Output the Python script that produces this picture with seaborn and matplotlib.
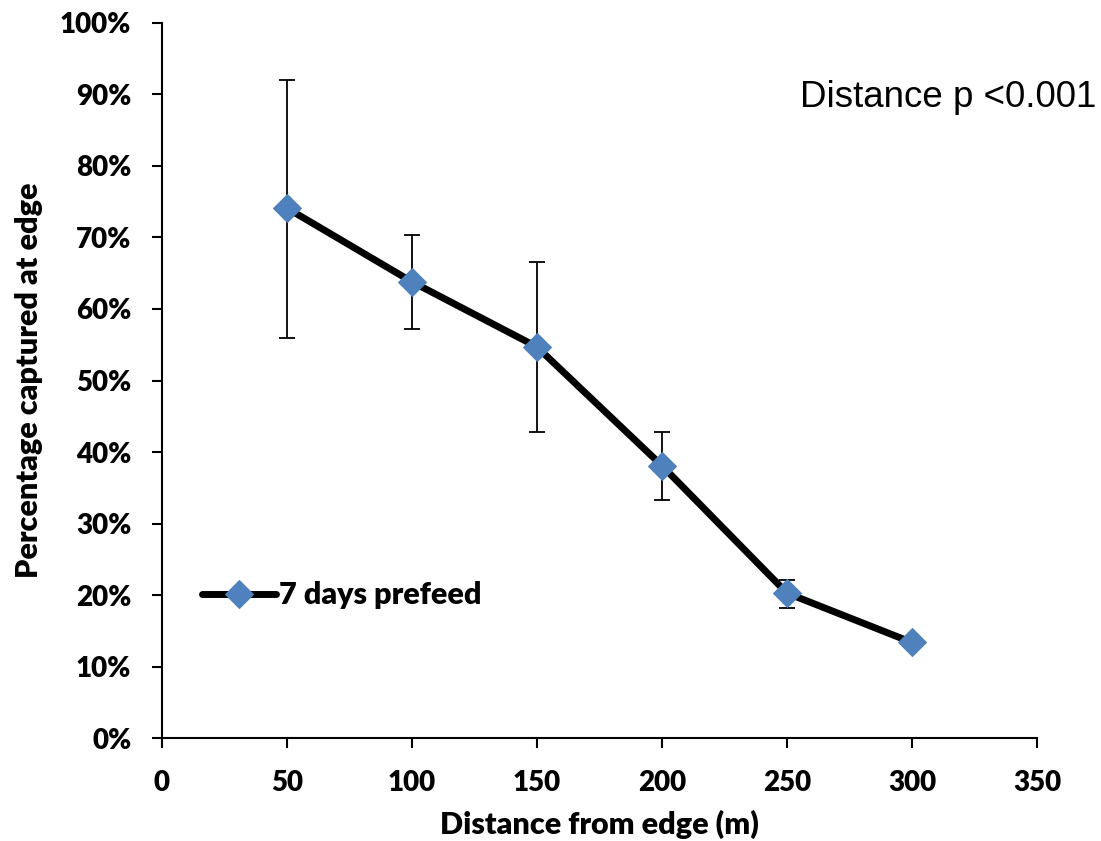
import matplotlib
matplotlib.use("Agg")
import matplotlib.pyplot as plt
import seaborn as sns
import numpy as np
import pandas as pd
from matplotlib.ticker import FuncFormatter

distance = [50, 100, 150, 200, 250, 300]
pct = [74.1, 63.8, 54.7, 38.1, 20.3, 13.4]
err_upper = [92.0, 70.4, 66.6, 42.8, 22.2, 13.4]
err_lower = [56.0, 57.2, 42.8, 33.3, 18.2, 13.4]
series_name = "7 days prefeed"
x_ticks = [0, 50, 100, 150, 200, 250, 300, 350]
y_ticks = [0, 10, 20, 30, 40, 50, 60, 70, 80, 90, 100]

sns.set_style("ticks")
plt.rcParams['font.family'] = ['Lato', 'DejaVu Sans']
plt.rcParams['text.color'] = 'black'
plt.rcParams['axes.labelcolor'] = 'black'
plt.rcParams['xtick.color'] = 'black'
plt.rcParams['ytick.color'] = 'black'

df = pd.DataFrame({"Distance": distance, "Pct": pct, "Series": series_name})

fig = plt.figure(figsize=(11.01, 8.41), dpi=100)
ax = fig.add_axes([0.147, 0.122, 0.795, 0.851])

yerr = np.array([np.array(pct) - np.array(err_lower), np.array(err_upper) - np.array(pct)])
ax.errorbar(distance, pct, yerr=yerr, fmt='none', ecolor='black', elinewidth=1.3,
            capsize=6, capthick=1.3, zorder=1)

sns.lineplot(data=df, x="Distance", y="Pct", hue="Series", palette=["black"],
             linewidth=5, marker='D', markersize=14, markerfacecolor='#4F81BD',
             markeredgecolor='#4F81BD', ax=ax, zorder=2)

ax.set_xlim(0, 350)
ax.set_ylim(0, 100)
ax.set_xticks(x_ticks)
ax.set_yticks(y_ticks)
ax.yaxis.set_major_formatter(FuncFormatter(lambda v, p: f"{int(v)}%"))
for lab in ax.get_xticklabels() + ax.get_yticklabels():
    lab.set_fontweight('heavy')
    lab.set_fontsize(20)
    lab.set_color('black')
ax.tick_params(axis='both', direction='out', length=7, width=1.5, colors='black')
ax.tick_params(axis='x', pad=16)
ax.tick_params(axis='y', pad=15)
for s in ['left', 'bottom']:
    ax.spines[s].set_linewidth(1.5)
    ax.spines[s].set_color('black')
sns.despine(ax=ax)

ax.set_xlabel("Distance from edge (m)", fontsize=22, fontweight='heavy', labelpad=10, color='black')
ax.set_ylabel("Percentage captured at edge", fontsize=22, fontweight='heavy', labelpad=12, color='black')

ax.text(0.729, 0.895, "Distance p <0.001", transform=ax.transAxes, fontsize=26.5,
        family=['Liberation Sans', 'DejaVu Sans'], ha='left', va='center', color='black')

leg = ax.legend(loc='center left', bbox_to_anchor=(0.015, 0.2), frameon=False,
                fontsize=22, handlelength=2.4, handletextpad=0.1)
for t in leg.get_texts():
    t.set_fontweight('heavy')
    t.set_color('black')

fig.savefig("out.png", dpi=100)
